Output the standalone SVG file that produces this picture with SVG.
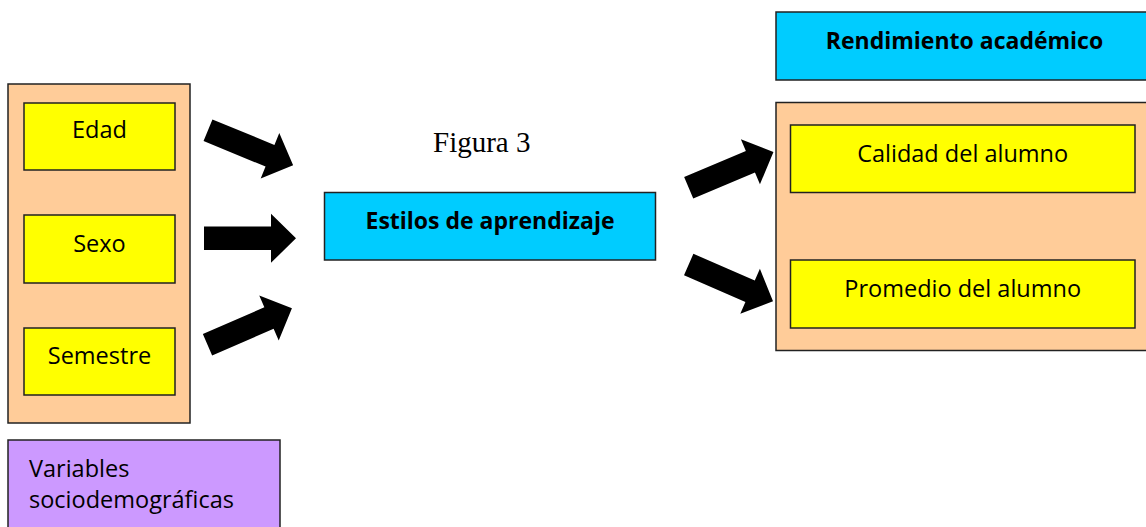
<svg xmlns="http://www.w3.org/2000/svg" width="1146" height="527" viewBox="0 0 1146 527">
<style>
.box{stroke:#222;stroke-width:1.5}
.orange{fill:#FFCC99}
.yellow{fill:#FFFF00}
.blue{fill:#00CCFF}
.purple{fill:#CC99FF}
.t{font-family:"Open Sans","DejaVu Sans",sans-serif;font-size:23.5px;fill:#000;text-anchor:middle}
.b{font-weight:bold;font-size:23px}
.fig{font-family:"Liberation Serif","Times New Roman",serif;font-size:29px;fill:#000}
</style>
<defs>
<path id="arr" d="M0,-11.7 L67,-11.7 L67,-24.5 L92,0 L67,24.5 L67,11.7 L0,11.7 Z" fill="#000"/>
</defs>
<rect width="1146" height="527" fill="#fff"/>
<g id="socio-group">
<rect class="box orange" x="8" y="84" width="182" height="339"/>
</g>
<g id="edad">
<rect class="box yellow" x="24" y="103" width="151" height="67"/>
<text class="t" x="99.5" y="137.5">Edad</text>
</g>
<g id="sexo">
<rect class="box yellow" x="24" y="215" width="151" height="68"/>
<text class="t" x="99.5" y="252">Sexo</text>
</g>
<g id="semestre">
<rect class="box yellow" x="24" y="328" width="151" height="67"/>
<text class="t" x="99.5" y="363.5">Semestre</text>
</g>
<g id="variables">
<rect class="box purple" x="8" y="440" width="272" height="100"/>
<text class="t" x="29" y="477" style="text-anchor:start">Variables</text>
<text class="t" x="29" y="508" style="text-anchor:start">sociodemográficas</text>
</g>
<g id="figura">
<text class="fig" x="433" y="151.5">Figura 3</text>
</g>
<g id="estilos">
<rect class="box blue" x="324.5" y="192.5" width="331" height="67.5"/>
<text class="t b" x="490" y="229">Estilos de aprendizaje</text>
</g>
<g id="rendimiento">
<rect class="box blue" x="776" y="12" width="380" height="68"/>
<text class="t b" x="964.5" y="48.5">Rendimiento académico</text>
</g>
<g id="rend-group">
<rect class="box orange" x="776" y="102.5" width="380" height="248"/>
</g>
<g id="calidad">
<rect class="box yellow" x="790.5" y="125" width="344.5" height="67.5"/>
<text class="t" x="962.7" y="161.5">Calidad del alumno</text>
</g>
<g id="promedio">
<rect class="box yellow" x="790.5" y="260" width="344.5" height="68"/>
<text class="t" x="962.7" y="296.5">Promedio del alumno</text>
</g>
<g id="connectors">
<use href="#arr" transform="translate(208,130.3) rotate(22.3)"/>
<use href="#arr" transform="translate(204,238.3)"/>
<use href="#arr" transform="translate(207.5,344.7) rotate(-23.4)"/>
<use href="#arr" transform="translate(688.7,187.8) rotate(-22.9)"/>
<use href="#arr" transform="translate(688.7,264.5) rotate(23.6)"/>
</g>
</svg>
